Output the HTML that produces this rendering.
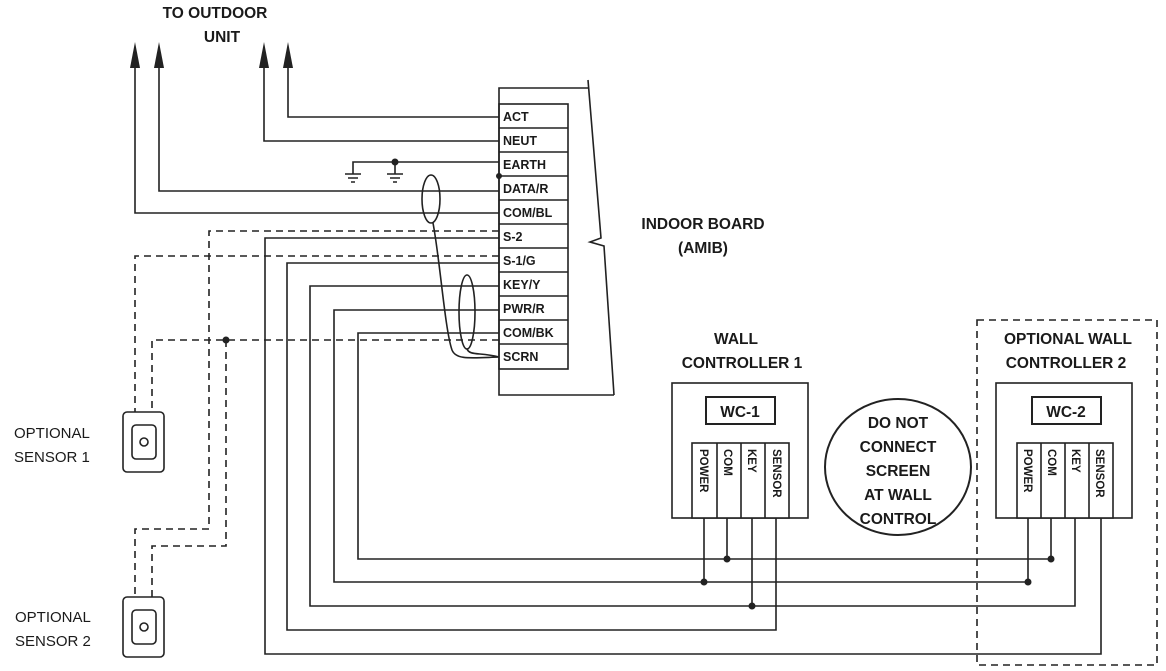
<!DOCTYPE html>
<html><head><meta charset="utf-8"><style>
html,body{margin:0;padding:0;background:#fff}
svg{display:block}
text{font-family:"Liberation Sans",sans-serif;fill:#1a1a1a}
.b{font-weight:bold}
</style></head><body>
<svg width="1166" height="671" viewBox="0 0 1166 671" xmlns="http://www.w3.org/2000/svg">
<g stroke="#222" stroke-width="1.6" fill="none">
<!-- board frame -->
<path d="M588,88 H499 V395 H614"/>
<path d="M588,80 L601,238 L590,242 L604,246 L614,395"/>
<!-- terminals -->
<rect x="499" y="104" width="69" height="265"/>
<path d="M499,128H568M499,152H568M499,176H568M499,200H568M499,224H568M499,248H568M499,272H568M499,296H568M499,320H568M499,344H568"/>
<!-- outdoor wires -->
<path d="M288,62 V117 H499"/>
<path d="M264,62 V141 H499"/>
<path d="M159,62 V191 H499"/>
<path d="M135,62 V213 H499"/>
<path d="M353,174 V162 H499"/>
<path d="M395,162 V174"/>
<path d="M345,174H361M348,178H358M351,182H355"/>
<path d="M387,174H403M390,178H400M393,182H397"/>
<!-- solid controller wires -->
<path d="M499,238 H265 V654 H1101 V518"/>
<path d="M499,263 H287 V630 H776 V518"/>
<path d="M499,286 H310 V606 H1075 V518"/>
<path d="M499,310 H334 V582 H1028 V518"/>
<path d="M499,333 H358 V559 H1051 V518"/>
<path d="M704,518V582M727,518V559M752,518V606"/>
<!-- screen cable -->
<ellipse cx="431" cy="199" rx="9" ry="24"/>
<ellipse cx="467" cy="312" rx="8" ry="37"/>
<path d="M433,223 C440,260 445,330 452,350 C456,360 470,358 499,357"/>
<path d="M467,349 C470,356 480,352 499,357"/>
</g>
<!-- dashed -->
<g stroke="#222" stroke-width="1.6" fill="none" stroke-dasharray="7,5">
<path d="M499,231 H209 V529 H135 V597"/>
<path d="M499,256 H135 V412"/>
<path d="M499,340 H152 V412"/>
<path d="M226,340 V546 H152 V597"/>
<rect x="977" y="320" width="180" height="345"/>
</g>
<g fill="#222">
<circle cx="395" cy="162" r="3.5"/><circle cx="499" cy="176" r="3"/>
<circle cx="226" cy="340" r="3.5"/>
<circle cx="704" cy="582" r="3.5"/><circle cx="727" cy="559" r="3.5"/><circle cx="752" cy="606" r="3.5"/>
<circle cx="1028" cy="582" r="3.5"/><circle cx="1051" cy="559" r="3.5"/>
<path d="M135,42 L130,68 H140Z"/><path d="M159,42 L154,68 H164Z"/>
<path d="M264,42 L259,68 H269Z"/><path d="M288,42 L283,68 H293Z"/>
</g>
<!-- sensors -->
<g stroke="#222" stroke-width="1.6" fill="#fff">
<rect x="123" y="412" width="41" height="60" rx="4"/><rect x="132" y="425" width="24" height="34" rx="4"/><circle cx="144" cy="442" r="4"/>
<rect x="123" y="597" width="41" height="60" rx="4"/><rect x="132" y="610" width="24" height="34" rx="4"/><circle cx="144" cy="627" r="4"/>
<!-- controllers -->
<rect x="672" y="383" width="136" height="135"/><rect x="706" y="397" width="69" height="27" stroke-width="2"/>
<rect x="692" y="443" width="97" height="75"/>
<path d="M717,443V518M741,443V518M765,443V518" fill="none"/>
<rect x="996" y="383" width="136" height="135"/><rect x="1032" y="397" width="69" height="27" stroke-width="2"/>
<rect x="1017" y="443" width="96" height="75"/>
<path d="M1041,443V518M1065,443V518M1089,443V518" fill="none"/>
<ellipse cx="898" cy="467" rx="73" ry="68" stroke-width="2"/>
</g>
<!-- text -->
<g class="b" font-size="12.5">
<text x="503" y="121">ACT</text><text x="503" y="145">NEUT</text><text x="503" y="169">EARTH</text>
<text x="503" y="193">DATA/R</text><text x="503" y="217">COM/BL</text><text x="503" y="241">S-2</text>
<text x="503" y="265">S-1/G</text><text x="503" y="289">KEY/Y</text><text x="503" y="313">PWR/R</text>
<text x="503" y="337">COM/BK</text><text x="503" y="361">SCRN</text>
</g>
<g class="b" font-size="15.5" text-anchor="middle">
<text x="215" y="18">TO OUTDOOR</text><text x="222" y="42">UNIT</text>
<text x="703" y="229">INDOOR BOARD</text><text x="703" y="253">(AMIB)</text>
<text x="736" y="344">WALL</text><text x="742" y="368">CONTROLLER 1</text>
<text x="1068" y="344">OPTIONAL WALL</text><text x="1066" y="368">CONTROLLER 2</text>
<text x="740" y="417">WC-1</text><text x="1066" y="417">WC-2</text>
<text x="898" y="428">DO NOT</text><text x="898" y="452">CONNECT</text><text x="898" y="476">SCREEN</text>
<text x="898" y="500">AT WALL</text><text x="898" y="524">CONTROL</text>
</g>
<g class="b" font-size="11.5">
<text transform="translate(700,449) rotate(90)">POWER</text>
<text transform="translate(724,449) rotate(90)">COM</text>
<text transform="translate(748,449) rotate(90)">KEY</text>
<text transform="translate(773,449) rotate(90)">SENSOR</text>
<text transform="translate(1024,449) rotate(90)">POWER</text>
<text transform="translate(1048,449) rotate(90)">COM</text>
<text transform="translate(1072,449) rotate(90)">KEY</text>
<text transform="translate(1096,449) rotate(90)">SENSOR</text>
</g>
<g font-size="15">
<text x="14" y="438">OPTIONAL</text><text x="14" y="462">SENSOR 1</text>
<text x="15" y="622">OPTIONAL</text><text x="15" y="646">SENSOR 2</text>
</g>
</svg>
</body></html>
